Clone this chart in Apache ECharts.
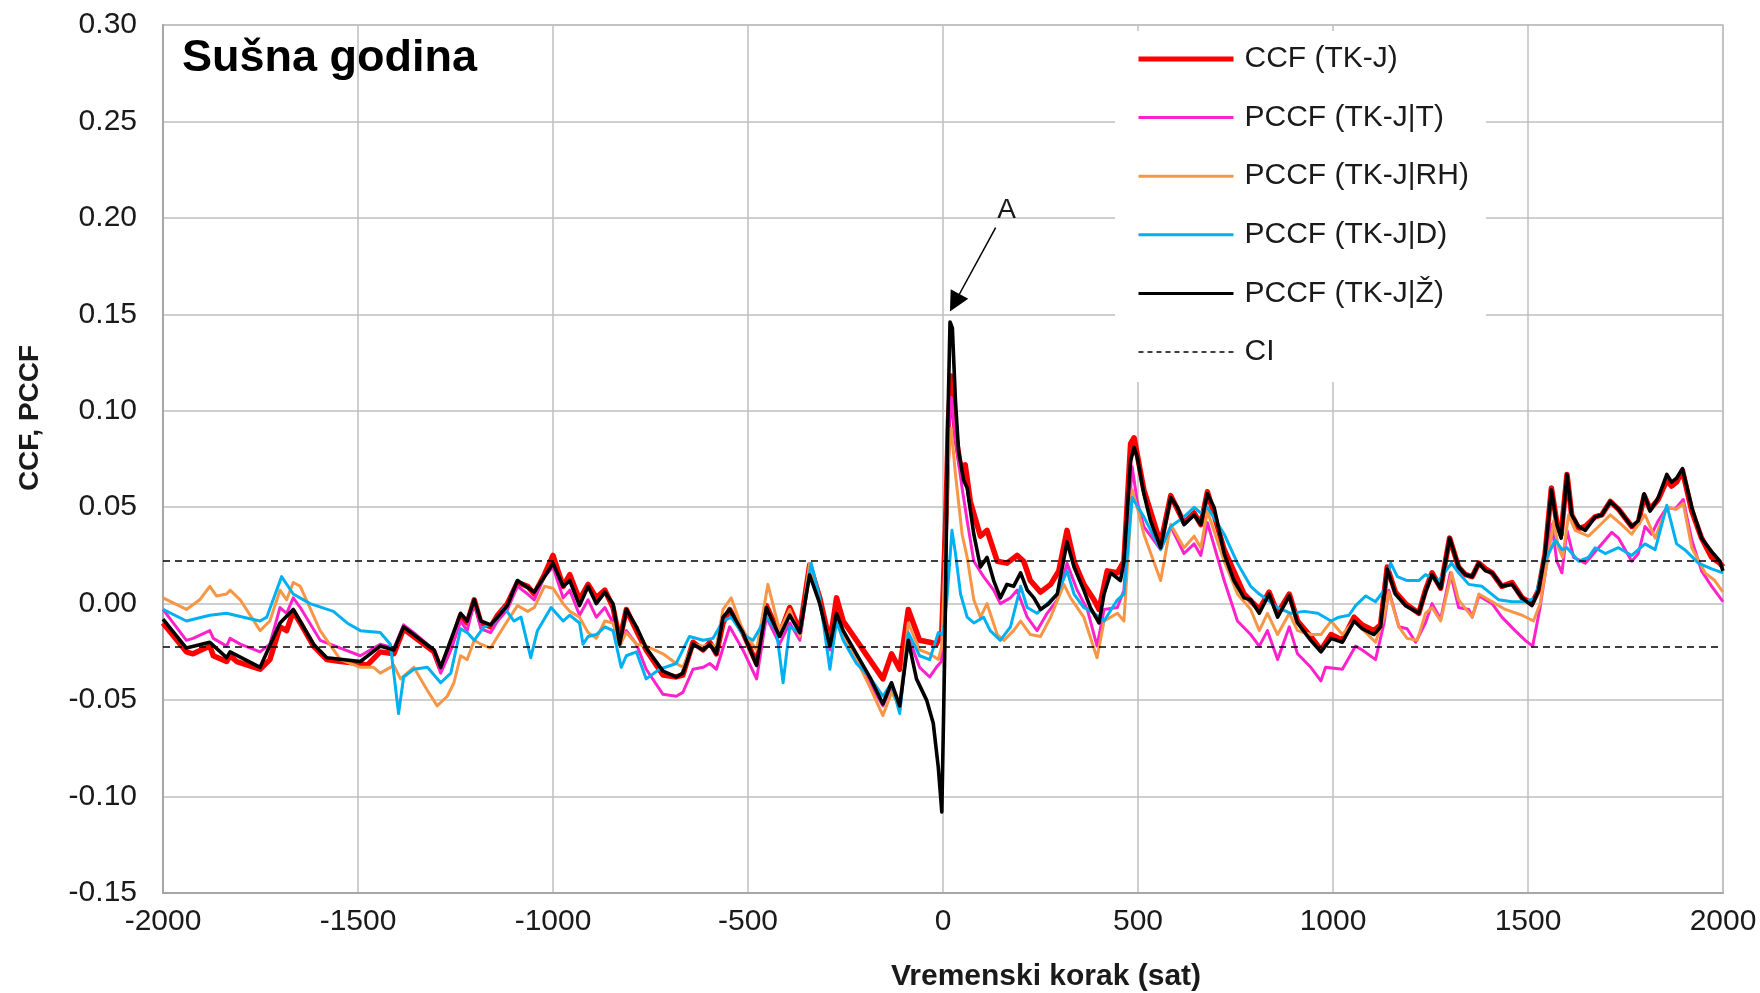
<!DOCTYPE html>
<html><head><meta charset="utf-8">
<script src="https://cdn.jsdelivr.net/npm/echarts@6.0.0/dist/echarts.min.js"></script>
<style>html,body{margin:0;padding:0;background:#fff}#c{width:1760px;height:993px}</style>
</head><body><div id="c"></div>
<script>
// ---- DATA ----
const chartTitle = 'Sušna godina';
const xTitle = 'Vremenski korak (sat)';
const yTitle = 'CCF, PCCF';
const seriesNames = ['CCF (TK-J)', 'PCCF (TK-J|T)', 'PCCF (TK-J|RH)', 'PCCF (TK-J|D)', 'PCCF (TK-J|Ž)', 'CI'];
const ciUpper = 0.0225;
const ciLower = -0.0225;
const annoFrom = [135, 0.195];
const annoTo = [30, 0.156];
const annoText = 'A';

const ccf = [[-2000,-0.010],[-1940,-0.025],[-1923,-0.026],[-1880,-0.022],[-1871,-0.027],[-1837,-0.030],[-1828,-0.027],[-1811,-0.030],[-1751,-0.034],[-1726,-0.029],[-1700,-0.012],[-1683,-0.014],[-1666,-0.004],[-1648,-0.010],[-1614,-0.022],[-1580,-0.029],[-1545,-0.030],[-1494,-0.031],[-1477,-0.032],[-1443,-0.025],[-1408,-0.026],[-1383,-0.013],[-1357,-0.017],[-1305,-0.025],[-1288,-0.034],[-1262,-0.022],[-1237,-0.006],[-1220,-0.010],[-1202,0.002],[-1185,-0.010],[-1160,-0.012],[-1142,-0.006],[-1117,0.000],[-1091,0.011],[-1065,0.009],[-1048,0.005],[-1022,0.015],[-1000,0.025],[-974,0.009],[-957,0.015],[-932,0.002],[-910,0.010],[-889,0.003],[-867,0.007],[-846,-0.002],[-829,-0.019],[-812,-0.003],[-786,-0.014],[-761,-0.024],[-718,-0.037],[-684,-0.038],[-667,-0.037],[-641,-0.020],[-615,-0.024],[-598,-0.020],[-581,-0.026],[-564,-0.010],[-547,-0.003],[-513,-0.015],[-478,-0.031],[-453,-0.001],[-419,-0.016],[-393,-0.002],[-367,-0.014],[-342,0.020],[-316,0.003],[-290,-0.020],[-273,0.003],[-256,-0.009],[-222,-0.019],[-188,-0.029],[-154,-0.039],[-132,-0.026],[-111,-0.034],[-89,-0.003],[-60,-0.019],[-34,-0.020],[-17,-0.021],[-3,-0.015],[8,0.050],[14,0.095],[21,0.118],[32,0.088],[45,0.071],[57,0.072],[70,0.053],[96,0.035],[113,0.038],[139,0.022],[164,0.021],[190,0.025],[207,0.022],[224,0.012],[250,0.006],[276,0.010],[297,0.017],[318,0.038],[336,0.022],[361,0.010],[387,0.002],[400,-0.003],[421,0.017],[447,0.016],[464,0.022],[481,0.083],[490,0.086],[515,0.059],[558,0.031],[584,0.056],[618,0.042],[644,0.047],[661,0.041],[678,0.058],[721,0.028],[772,0.005],[811,-0.003],[836,0.006],[858,-0.005],[888,0.005],[909,-0.009],[943,-0.017],[969,-0.024],[995,-0.016],[1024,-0.019],[1054,-0.007],[1075,-0.011],[1105,-0.014],[1122,-0.011],[1139,0.019],[1160,0.006],[1186,0.000],[1220,-0.005],[1237,0.007],[1254,0.016],[1276,0.008],[1299,0.034],[1322,0.019],[1340,0.015],[1357,0.014],[1374,0.021],[1391,0.018],[1408,0.016],[1433,0.009],[1459,0.011],[1485,0.003],[1510,0.000],[1527,0.007],[1544,0.026],[1560,0.060],[1574,0.042],[1585,0.036],[1600,0.067],[1612,0.046],[1630,0.039],[1647,0.040],[1672,0.045],[1689,0.046],[1711,0.053],[1732,0.049],[1766,0.040],[1783,0.042],[1798,0.056],[1813,0.049],[1834,0.054],[1856,0.064],[1868,0.061],[1881,0.063],[1896,0.069],[1920,0.048],[1945,0.034],[1971,0.024],[1992,0.021],[2000,0.019]];

const pccfT = [[-2000,-0.003],[-1940,-0.019],[-1923,-0.018],[-1880,-0.014],[-1871,-0.018],[-1837,-0.022],[-1828,-0.018],[-1802,-0.021],[-1751,-0.025],[-1726,-0.021],[-1700,-0.002],[-1683,-0.005],[-1666,0.003],[-1648,-0.002],[-1597,-0.019],[-1545,-0.023],[-1494,-0.027],[-1443,-0.021],[-1408,-0.023],[-1383,-0.011],[-1357,-0.015],[-1305,-0.024],[-1288,-0.036],[-1262,-0.024],[-1237,-0.009],[-1220,-0.014],[-1202,0.001],[-1185,-0.013],[-1160,-0.015],[-1142,-0.009],[-1117,-0.003],[-1091,0.009],[-1065,0.005],[-1048,0.002],[-1022,0.014],[-1000,0.019],[-974,0.003],[-957,0.007],[-932,-0.006],[-910,0.002],[-889,-0.007],[-867,-0.002],[-846,-0.010],[-829,-0.021],[-812,-0.014],[-786,-0.021],[-761,-0.034],[-718,-0.047],[-684,-0.048],[-667,-0.046],[-641,-0.034],[-615,-0.033],[-598,-0.031],[-581,-0.034],[-547,-0.012],[-513,-0.024],[-478,-0.039],[-453,-0.007],[-419,-0.021],[-393,-0.010],[-367,-0.019],[-342,0.019],[-316,0.000],[-290,-0.024],[-273,-0.007],[-256,-0.015],[-222,-0.027],[-188,-0.041],[-154,-0.053],[-132,-0.043],[-111,-0.055],[-89,-0.017],[-60,-0.033],[-34,-0.038],[-17,-0.033],[-4,-0.030],[8,0.040],[14,0.088],[21,0.107],[32,0.085],[49,0.060],[62,0.043],[79,0.022],[104,0.014],[130,0.007],[147,0.000],[173,0.003],[190,0.007],[216,-0.007],[241,-0.014],[267,-0.005],[293,0.002],[318,0.021],[344,0.007],[370,-0.003],[395,-0.022],[413,-0.003],[447,-0.002],[464,0.007],[485,0.071],[498,0.053],[515,0.040],[558,0.028],[584,0.040],[618,0.026],[644,0.031],[661,0.025],[678,0.042],[721,0.012],[755,-0.009],[789,-0.016],[811,-0.022],[832,-0.014],[858,-0.029],[888,-0.012],[909,-0.026],[943,-0.033],[969,-0.040],[981,-0.033],[1024,-0.034],[1058,-0.022],[1075,-0.024],[1109,-0.029],[1131,-0.010],[1143,0.007],[1169,-0.012],[1190,-0.013],[1212,-0.020],[1237,-0.010],[1254,0.000],[1276,-0.008],[1301,0.016],[1322,-0.002],[1348,-0.003],[1357,-0.007],[1374,0.004],[1408,0.000],[1433,-0.007],[1467,-0.014],[1493,-0.019],[1512,-0.022],[1531,-0.002],[1548,0.021],[1561,0.041],[1574,0.022],[1587,0.016],[1600,0.038],[1617,0.024],[1647,0.021],[1681,0.029],[1715,0.037],[1732,0.034],[1766,0.022],[1783,0.026],[1800,0.040],[1817,0.036],[1834,0.043],[1856,0.050],[1877,0.049],[1898,0.054],[1920,0.033],[1945,0.017],[1971,0.009],[2000,0.001]];

const pccfRH = [[-2000,0.003],[-1940,-0.003],[-1906,0.002],[-1880,0.009],[-1863,0.004],[-1837,0.005],[-1828,0.007],[-1802,0.002],[-1751,-0.014],[-1726,-0.009],[-1700,0.007],[-1683,0.002],[-1666,0.011],[-1648,0.009],[-1597,-0.014],[-1545,-0.029],[-1494,-0.033],[-1460,-0.033],[-1443,-0.036],[-1408,-0.032],[-1391,-0.039],[-1357,-0.033],[-1322,-0.045],[-1297,-0.053],[-1271,-0.048],[-1254,-0.041],[-1237,-0.027],[-1220,-0.029],[-1202,-0.019],[-1185,-0.021],[-1160,-0.023],[-1142,-0.017],[-1117,-0.009],[-1091,-0.001],[-1065,-0.004],[-1048,-0.002],[-1022,0.009],[-1000,0.008],[-974,0.000],[-957,-0.004],[-932,-0.007],[-910,-0.015],[-889,-0.018],[-867,-0.009],[-846,-0.010],[-829,-0.022],[-812,-0.015],[-786,-0.021],[-761,-0.022],[-718,-0.026],[-684,-0.031],[-667,-0.033],[-641,-0.021],[-615,-0.022],[-598,-0.021],[-581,-0.022],[-564,-0.003],[-543,0.003],[-513,-0.014],[-478,-0.024],[-449,0.010],[-419,-0.014],[-393,-0.003],[-367,-0.017],[-342,0.021],[-316,0.000],[-290,-0.021],[-273,-0.010],[-256,-0.017],[-222,-0.029],[-188,-0.043],[-154,-0.058],[-132,-0.046],[-111,-0.053],[-89,-0.010],[-60,-0.024],[-34,-0.026],[-12,-0.029],[-3,-0.022],[8,0.040],[14,0.075],[21,0.091],[32,0.067],[49,0.036],[62,0.024],[79,0.002],[96,-0.007],[113,0.000],[139,-0.016],[156,-0.019],[181,-0.014],[199,-0.009],[224,-0.016],[250,-0.017],[276,-0.007],[310,0.010],[327,0.003],[361,-0.007],[395,-0.028],[413,-0.009],[447,-0.005],[464,-0.009],[485,0.059],[498,0.050],[515,0.036],[558,0.012],[584,0.041],[618,0.029],[644,0.035],[661,0.029],[678,0.048],[721,0.022],[755,0.005],[789,-0.003],[811,-0.014],[832,-0.005],[858,-0.016],[888,-0.005],[909,-0.014],[943,-0.016],[969,-0.016],[995,-0.009],[1024,-0.016],[1054,-0.009],[1109,-0.020],[1131,-0.007],[1143,0.006],[1169,-0.012],[1190,-0.018],[1216,-0.019],[1237,-0.005],[1254,-0.002],[1276,-0.009],[1304,0.016],[1322,0.002],[1357,-0.007],[1374,0.005],[1408,0.001],[1442,-0.003],[1485,-0.006],[1514,-0.009],[1531,0.000],[1553,0.026],[1566,0.043],[1578,0.029],[1589,0.024],[1604,0.046],[1621,0.038],[1655,0.035],[1681,0.040],[1711,0.046],[1740,0.041],[1766,0.036],[1800,0.046],[1826,0.034],[1856,0.050],[1881,0.049],[1898,0.052],[1920,0.029],[1954,0.016],[1979,0.012],[2000,0.006]];

const pccfD = [[-2000,-0.003],[-1940,-0.009],[-1880,-0.006],[-1837,-0.005],[-1794,-0.007],[-1751,-0.009],[-1734,-0.007],[-1696,0.014],[-1666,0.005],[-1623,0.000],[-1563,-0.004],[-1528,-0.010],[-1494,-0.014],[-1443,-0.015],[-1417,-0.021],[-1396,-0.057],[-1383,-0.038],[-1357,-0.034],[-1322,-0.033],[-1288,-0.041],[-1262,-0.036],[-1237,-0.013],[-1220,-0.015],[-1202,-0.019],[-1177,-0.012],[-1151,-0.010],[-1125,-0.002],[-1100,-0.009],[-1082,-0.007],[-1057,-0.028],[-1040,-0.014],[-1005,-0.002],[-974,-0.009],[-957,-0.006],[-932,-0.010],[-923,-0.021],[-910,-0.017],[-889,-0.016],[-867,-0.012],[-846,-0.014],[-825,-0.033],[-812,-0.027],[-786,-0.025],[-761,-0.039],[-727,-0.034],[-684,-0.031],[-650,-0.017],[-615,-0.019],[-590,-0.018],[-564,-0.009],[-543,-0.007],[-513,-0.016],[-487,-0.019],[-453,-0.007],[-427,-0.014],[-410,-0.041],[-393,-0.012],[-367,-0.015],[-338,0.021],[-316,0.003],[-290,-0.034],[-273,-0.009],[-256,-0.019],[-222,-0.031],[-188,-0.038],[-154,-0.048],[-132,-0.041],[-111,-0.057],[-89,-0.015],[-60,-0.027],[-34,-0.029],[-12,-0.015],[0,-0.016],[10,0.002],[23,0.038],[32,0.026],[45,0.005],[62,-0.007],[79,-0.010],[104,-0.007],[121,-0.014],[147,-0.019],[173,-0.012],[199,0.009],[216,-0.002],[241,-0.005],[267,0.000],[293,0.005],[318,0.017],[336,0.005],[361,-0.002],[387,-0.005],[413,-0.009],[447,0.002],[464,0.005],[485,0.055],[515,0.045],[558,0.028],[584,0.040],[618,0.045],[644,0.050],[661,0.047],[678,0.050],[721,0.036],[755,0.021],[789,0.009],[811,0.005],[832,0.002],[858,-0.002],[892,-0.005],[926,-0.004],[961,-0.005],[995,-0.009],[1015,-0.007],[1041,-0.006],[1058,-0.001],[1084,0.004],[1109,0.001],[1131,0.007],[1148,0.021],[1165,0.014],[1190,0.012],[1220,0.012],[1237,0.015],[1271,0.012],[1304,0.021],[1322,0.016],[1348,0.010],[1382,0.009],[1425,0.002],[1459,0.001],[1493,0.001],[1519,0.003],[1536,0.018],[1553,0.026],[1570,0.033],[1587,0.028],[1600,0.029],[1630,0.022],[1655,0.024],[1672,0.029],[1698,0.026],[1732,0.029],[1766,0.025],[1783,0.028],[1800,0.031],[1826,0.028],[1856,0.051],[1881,0.031],[1902,0.028],[1937,0.021],[1971,0.018],[2000,0.016]];

const pccfZ = [[-2000,-0.008],[-1940,-0.023],[-1880,-0.020],[-1837,-0.028],[-1828,-0.025],[-1751,-0.033],[-1700,-0.010],[-1666,-0.003],[-1614,-0.021],[-1580,-0.028],[-1494,-0.030],[-1443,-0.022],[-1408,-0.024],[-1383,-0.012],[-1305,-0.024],[-1288,-0.033],[-1237,-0.005],[-1220,-0.009],[-1202,0.002],[-1185,-0.009],[-1160,-0.011],[-1142,-0.007],[-1117,-0.001],[-1091,0.012],[-1048,0.006],[-1022,0.014],[-1000,0.021],[-974,0.009],[-957,0.012],[-932,-0.001],[-910,0.009],[-889,0.000],[-867,0.006],[-846,0.000],[-829,-0.021],[-812,-0.003],[-786,-0.012],[-761,-0.023],[-718,-0.035],[-684,-0.038],[-667,-0.036],[-641,-0.021],[-615,-0.024],[-598,-0.021],[-581,-0.026],[-564,-0.007],[-547,-0.003],[-513,-0.015],[-478,-0.032],[-453,-0.002],[-419,-0.017],[-393,-0.006],[-367,-0.015],[-342,0.015],[-316,0.000],[-290,-0.022],[-273,-0.005],[-256,-0.014],[-222,-0.026],[-188,-0.038],[-154,-0.052],[-132,-0.041],[-111,-0.053],[-89,-0.019],[-68,-0.039],[-42,-0.050],[-25,-0.062],[-12,-0.085],[-3,-0.108],[5,-0.019],[12,0.090],[18,0.146],[24,0.143],[32,0.105],[40,0.079],[53,0.064],[62,0.060],[79,0.036],[96,0.019],[113,0.024],[130,0.012],[147,0.003],[164,0.010],[181,0.009],[199,0.016],[216,0.007],[233,0.003],[250,-0.003],[271,0.000],[293,0.005],[318,0.032],[336,0.019],[361,0.007],[378,-0.002],[400,-0.010],[413,0.005],[430,0.016],[455,0.012],[464,0.022],[481,0.074],[490,0.081],[498,0.076],[515,0.057],[532,0.043],[558,0.029],[584,0.055],[601,0.050],[618,0.041],[644,0.046],[661,0.041],[678,0.057],[695,0.050],[721,0.026],[746,0.012],[772,0.003],[789,0.002],[811,-0.005],[836,0.005],[858,-0.007],[888,0.004],[909,-0.010],[943,-0.019],[969,-0.025],[995,-0.018],[1024,-0.020],[1054,-0.009],[1075,-0.013],[1105,-0.016],[1122,-0.012],[1139,0.018],[1160,0.005],[1186,-0.001],[1220,-0.005],[1237,0.006],[1254,0.015],[1276,0.008],[1299,0.034],[1322,0.019],[1340,0.015],[1357,0.014],[1374,0.021],[1391,0.017],[1408,0.016],[1433,0.009],[1459,0.010],[1485,0.003],[1510,-0.001],[1527,0.007],[1544,0.026],[1560,0.059],[1574,0.041],[1585,0.034],[1600,0.067],[1612,0.046],[1630,0.040],[1647,0.038],[1672,0.045],[1689,0.046],[1711,0.053],[1732,0.049],[1766,0.040],[1783,0.043],[1798,0.057],[1813,0.048],[1834,0.055],[1856,0.067],[1868,0.063],[1881,0.065],[1896,0.070],[1920,0.050],[1945,0.034],[1971,0.027],[1992,0.022],[2000,0.017]];

// ---- CHART ----
const FONT = "'Liberation Sans', Arial, sans-serif";
const TXT = '#1a1a1a';
const colors = ['#FF0000', '#FF22CC', '#F79646', '#00B0F0', '#000000', '#000000'];
const widths = [5.5, 3, 3, 3, 3.6, 1.5];
const seriesData = [ccf, pccfT, pccfRH, pccfD, pccfZ];

const chart = echarts.init(document.getElementById('c'), null, {renderer: 'canvas'});

const series = seriesData.map((d, i) => ({
  name: seriesNames[i], type: 'line', data: d, symbol: 'none', silent: true,
  lineStyle: {color: colors[i], width: widths[i], join: 'round'}, itemStyle: {color: colors[i]}
}));
series[4].markLine = {
  silent: true, symbol: ['none', 'triangle'], symbolSize: 20, animation: false, precision: 4,
  lineStyle: {color: '#000', width: 1.5, type: 'solid'},
  label: {show: true, position: 'start', formatter: annoText, fontSize: 28, color: TXT, fontFamily: FONT, distance: 4, padding: [0, 0, 0, 18]},
  data: [[{coord: annoFrom}, {coord: annoTo}]]
};
series.push({
  name: 'CI', type: 'line', data: [], symbol: 'none', silent: true,
  lineStyle: {color: '#000', width: 1.5, type: [7, 5]}, itemStyle: {color: '#000'},
  markLine: {
    silent: true, symbol: 'none', animation: false, precision: 5, label: {show: false},
    lineStyle: {color: '#000', width: 1.5, type: [7, 5]},
    data: [{yAxis: ciUpper}, {yAxis: ciLower}]
  }
});

chart.setOption({
  animation: false,
  backgroundColor: '#fff',
  grid: {left: 163, right: 37, top: 25, bottom: 100, show: true, borderColor: '#BFBFBF', borderWidth: 1.5, outerBoundsMode: 'none'},
  xAxis: {
    type: 'value', min: -2000, max: 2000, interval: 500,
    axisLine: {show: true, onZero: false, lineStyle: {color: '#A6A6A6', width: 2}},
    axisTick: {show: false},
    axisLabel: {fontSize: 30, color: TXT, margin: 14, fontFamily: FONT, formatter: v => String(v)},
    splitLine: {show: true, lineStyle: {color: '#BFBFBF', width: 1.5}}
  },
  yAxis: {
    type: 'value', min: -0.15, max: 0.30, interval: 0.05,
    axisLine: {show: true, onZero: false, lineStyle: {color: '#A6A6A6', width: 2}},
    axisTick: {show: false},
    axisLabel: {fontSize: 30, color: TXT, margin: 26, fontFamily: FONT, formatter: v => v.toFixed(2)},
    splitLine: {show: true, lineStyle: {color: '#BFBFBF', width: 1.5}}
  },
  legend: {
    orient: 'vertical', left: 1115, top: 31, padding: [13, 17, 15, 21],
    backgroundColor: '#fff', selectedMode: false,
    itemWidth: 95, itemHeight: 14, itemGap: 28.6,
    textStyle: {fontSize: 30, color: TXT, fontFamily: FONT, lineHeight: 30, padding: [0, 0, 0, 6]},
    data: seriesNames.map((n, i) => ({
      name: n,
      lineStyle: {width: i === 0 ? 5 : (i === 5 ? 1.5 : 3), color: colors[i], type: i === 5 ? [5, 4] : 'solid'},
      itemStyle: {color: 'rgba(0,0,0,0)', borderColor: 'rgba(0,0,0,0)', borderWidth: 0, opacity: 0}
    }))
  },
  graphic: [
    {type: 'text', x: 182, y: 59, style: {text: chartTitle, font: "bold 45px 'Liberation Sans', Arial, sans-serif", fill: '#000', verticalAlign: 'middle', align: 'left'}},
    {type: 'text', x: 1046, y: 977, style: {text: xTitle, font: "bold 30px 'Liberation Sans', Arial, sans-serif", fill: TXT, verticalAlign: 'middle', align: 'center'}},
    {type: 'text', x: 30, y: 418, rotation: Math.PI / 2, style: {text: yTitle, font: "bold 28px 'Liberation Sans', Arial, sans-serif", fill: TXT, verticalAlign: 'middle', align: 'center'}}
  ],
  series: series
});
</script>
</body></html>
